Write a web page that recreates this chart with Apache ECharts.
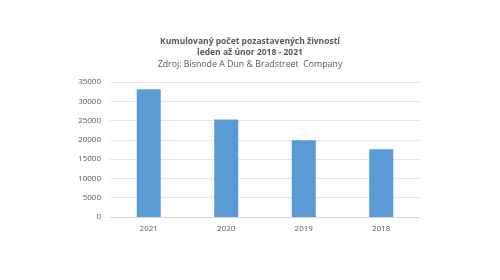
<!DOCTYPE html>
<html><head><meta charset="utf-8">
<script src="https://cdn.jsdelivr.net/npm/echarts@6/dist/echarts.min.js"></script>
<style>html,body{margin:0;padding:0;background:#fff}#c{width:500px;height:280px}</style>
</head><body><div id="c"></div>
<script>
const categories = ['2021', '2020', '2019', '2018'];
const values = [33100, 25300, 19900, 17550];
const titleLines = ['Kumulovaný počet pozastavených živností', 'leden až únor 2018 - 2021'];
const sourceText = 'Zdroj: Bisnode A Dun & Bradstreet  Company';

const chart = echarts.init(document.getElementById('c'), null, {renderer: 'canvas'});
chart.setOption({
  animation: false,
  backgroundColor: '#ffffff',
  title: [
    {text: titleLines.join('\n'), left: 'center', top: 31,
     textStyle: {fontFamily: 'Open Sans', fontSize: 8.5, fontWeight: 'bold', color: '#595959', lineHeight: 11}},
    {text: sourceText, left: 'center', top: 55,
     textStyle: {fontFamily: 'Open Sans', fontSize: 8.8, fontWeight: 'normal', color: '#595959'}}
  ],
  grid: {left: 110, right: 80, top: 82, bottom: 63},
  xAxis: {
    type: 'category', data: categories,
    axisLine: {show: true, lineStyle: {color: '#d9d9d9'}},
    axisTick: {show: false},
    axisLabel: {color: '#595959', fontFamily: 'Open Sans', fontSize: 8, margin: 8}
  },
  yAxis: {
    type: 'value', min: 0, max: 35000, interval: 5000,
    axisLine: {show: false}, axisTick: {show: false},
    splitLine: {lineStyle: {color: '#e6e6e6'}},
    axisLabel: {color: '#595959', fontFamily: 'Open Sans', fontSize: 8, margin: 9,
                formatter: v => String(v)}
  },
  series: [{
    type: 'bar', data: values, barWidth: '31%',
    itemStyle: {color: '#5B9BD5'}
  }]
});
</script></body></html>
